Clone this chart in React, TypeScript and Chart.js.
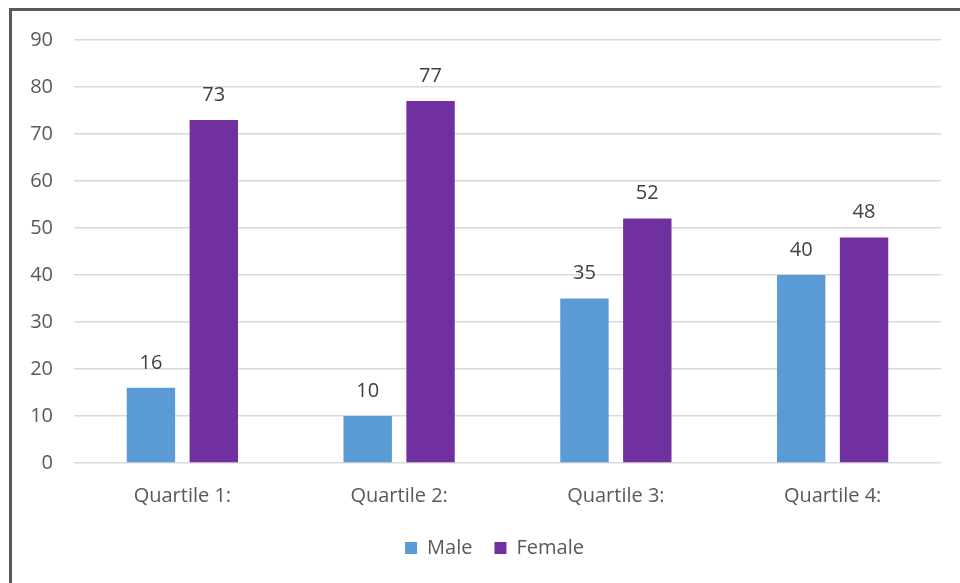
import { useEffect, useRef } from "react";
import { Chart, registerables } from "chart.js";

Chart.register(...registerables);

const categories = ["Quartile 1:", "Quartile 2:", "Quartile 3:", "Quartile 4:"];
const maleValues = [16, 10, 35, 40];
const femaleValues = [73, 77, 52, 48];
const yMin = 0;
const yMax = 90;
const yStep = 10;

const FONT = "'Open Sans', 'Noto Sans', sans-serif";

const barLabels = {
  id: "barLabels",
  afterDatasetsDraw(chart: any) {
    const { ctx } = chart;
    ctx.save();
    ctx.font = `20px ${FONT}`;
    ctx.fillStyle = "#404040";
    ctx.textAlign = "center";
    ctx.textBaseline = "middle";
    chart.data.datasets.forEach((ds: any, i: number) => {
      const meta = chart.getDatasetMeta(i);
      meta.data.forEach((el: any, j: number) => {
        ctx.fillText(String(ds.data[j]), el.x, el.y - 25);
      });
    });
    ctx.restore();
  },
};

const legendShift = {
  id: "legendShift",
  afterLayout(chart: any) {
    const lg = chart.legend;
    if (lg) {
      lg.left += 24;
      lg.right += 24;
    }
  },
};

export default function App() {
  const ref = useRef<HTMLCanvasElement | null>(null);

  useEffect(() => {
    if (!ref.current) return;
    const chart = new Chart(ref.current, {
      type: "bar",
      data: {
        labels: categories,
        datasets: [
          {
            label: "Male",
            data: maleValues,
            backgroundColor: "#5B9BD5",
            categoryPercentage: 0.58,
            barPercentage: 0.77,
          },
          {
            label: "Female",
            data: femaleValues,
            backgroundColor: "#7030A0",
            categoryPercentage: 0.58,
            barPercentage: 0.77,
          },
        ],
      },
      options: {
        responsive: false,
        animation: false,
        layout: { padding: { top: 40, left: 0, right: 19, bottom: 15 } },
        plugins: {
          tooltip: { enabled: false },
          legend: {
            position: "bottom",
            labels: {
              boxWidth: 12,
              boxHeight: 12,
              padding: 22,
              color: "#595959",
              font: { family: FONT, size: 20 },
            },
          },
        },
        scales: {
          x: {
            grid: { display: false, drawTicks: false },
            border: { display: false },
            ticks: {
              color: "#595959",
              padding: 21,
              font: { family: FONT, size: 20 },
            },
            afterFit(scale: any) {
              scale.height = 53;
            },
          },
          y: {
            min: yMin,
            max: yMax,
            grid: { color: "#d9d9d9", lineWidth: 1.5, drawTicks: false },
            border: { display: false },
            ticks: {
              stepSize: yStep,
              color: "#595959",
              padding: 21,
              font: { family: FONT, size: 20 },
            },
            afterFit(scale: any) {
              scale.width = 74;
            },
          },
        },
      },
      plugins: [barLabels, legendShift],
    });
    return () => chart.destroy();
  }, []);

  return (
    <div
      style={{
        position: "absolute",
        left: 0,
        top: 0,
        width: 960,
        height: 583,
        overflow: "hidden",
        background: "#ffffff",
      }}
    >
      <div
        style={{
          position: "absolute",
          left: 9,
          top: 8,
          width: 1200,
          height: 1200,
          borderLeft: "3px solid #595959",
          borderTop: "3px solid #595959",
        }}
      />
      <canvas
        ref={ref}
        width={960}
        height={583}
        style={{ position: "absolute", left: 0, top: 0, width: 960, height: 583 }}
      />
    </div>
  );
}
